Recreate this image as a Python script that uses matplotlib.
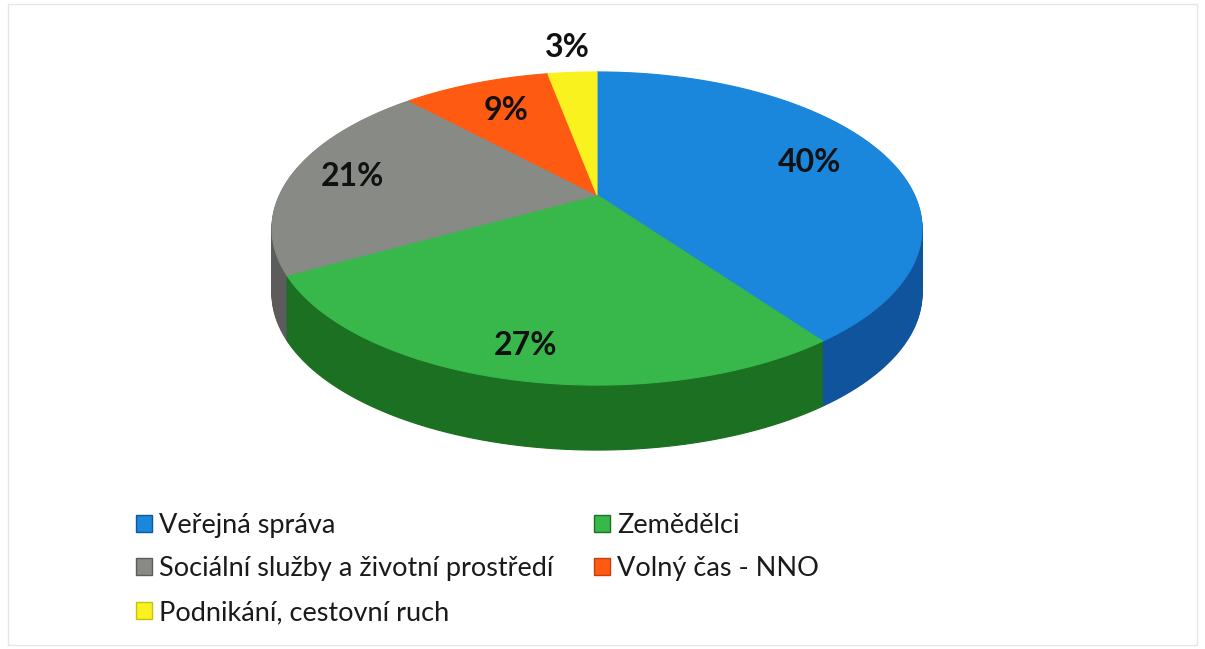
import numpy as np
import matplotlib
matplotlib.use('Agg')
import matplotlib.pyplot as plt
import matplotlib.transforms as mtransforms
from matplotlib.patches import Patch, Rectangle
from matplotlib.path import Path

# data
labels = ['Veřejná správa', 'Zemědělci', 'Sociální služby a životní prostředí',
          'Volný čas - NNO', 'Podnikání, cestovní ruch']
shares = [40, 27, 21, 9, 3]
pct_labels = ['40%', '27%', '21%', '9%', '3%']

# styles
top_colors = ['#1a86dc', '#38b84a', '#878a85', '#ff5a12', '#f9f21e']
side_colors = ['#11549e', '#1c7022', '#5c5c5c', '#c2400c', '#c8c010']
label_r = [0.74, 0.85, 0.80, 0.72, 1.26]

# pie geometry in pixels (3d look through a simple perspective tilt)
CX, CY = 597, 195
W, A, K = 317.5, 149.4, 0.214
DEPTH = 65


class Tilt(mtransforms.Transform):
    input_dims = output_dims = 2
    is_separable = False
    has_inverse = False

    def transform_non_affine(self, xy):
        xy = np.asarray(xy, float)
        d = 1 + K * xy[..., 1]
        return np.stack([xy[..., 0] / d, xy[..., 1] / d], axis=-1)

    def transform_path_non_affine(self, path):
        # sample the arcs finely so the tilt bends them correctly
        pts = [seg(np.linspace(0, 1, 24)) for seg, _ in path.iter_bezier()]
        verts = np.concatenate(pts)
        return Path(self.transform_non_affine(verts), closed=True)


fig = plt.figure(figsize=(12.05, 6.49), dpi=100)
ax = fig.add_axes([0, 0, 1, 1])


def pie_transform(dy):
    return Tilt() + mtransforms.Affine2D().scale(W, -A).translate(CX, CY + dy) + ax.transData


def draw_layer(colors, dy):
    wedges, _ = ax.pie(shares, colors=colors, startangle=90, counterclock=False,
                       wedgeprops=dict(linewidth=0.8))
    tr = pie_transform(dy)
    for w in wedges:
        w.set_edgecolor(w.get_facecolor())
        w.set_transform(tr)


# side walls, then top face
for dy in range(DEPTH, 0, -1):
    draw_layer(side_colors, dy)
draw_layer(top_colors, 0)

# percentage labels
tr_top = pie_transform(0)
mid = 90 - (np.cumsum(shares) - np.array(shares) / 2) * 3.6
for t, r, s in zip(mid, label_r, pct_labels):
    u, v = r * np.cos(np.radians(t)), r * np.sin(np.radians(t))
    ax.text(u, v, s, transform=tr_top, ha='center', va='center',
            fontsize=23, fontweight='bold', family='Lato', color='#111111')

ax.set_aspect('auto')
ax.set_xlim(0, 1205)
ax.set_ylim(649, 0)
ax.axis('off')

# light frame of the chart area
ax.add_patch(Rectangle((8, 4), 1189, 641, fill=False, edgecolor='#e6e6e6', lw=1))

# legend, filled row by row like the original
order = [0, 2, 4, 1, 3]
handles = [Patch(facecolor=top_colors[i], edgecolor=side_colors[i], label=labels[i]) for i in order]
fig.legend(handles=handles, loc='upper left', bbox_to_anchor=(136 / 1205, 1 - 513 / 649),
           ncol=2, frameon=False, prop=dict(family='Lato', size=19.5),
           handlelength=0.6, handleheight=0.6, handletextpad=0.25,
           columnspacing=1.5, labelspacing=0.68, borderaxespad=0, borderpad=0,
           labelcolor='#1a1a1a')

plt.savefig('out.png', dpi=100)
